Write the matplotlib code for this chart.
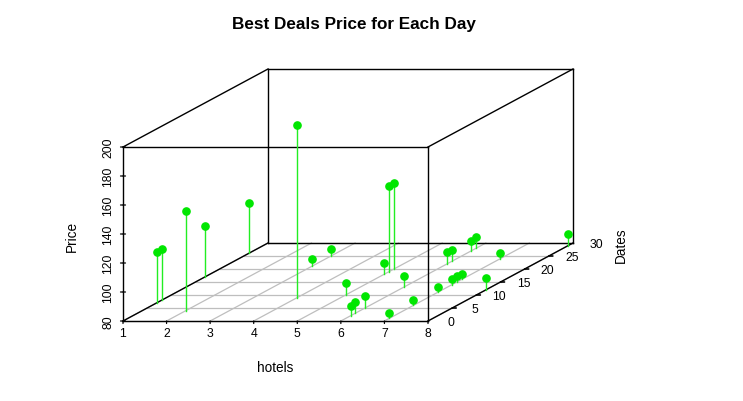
import numpy as np
import matplotlib
matplotlib.use("Agg")
import matplotlib.pyplot as plt

plt.rcParams['font.family'] = ['Liberation Sans', 'DejaVu Sans']

# one best-deal row per day: hotel index, date, price
hotels = [1, 1, 2, 1, 1, 4, 3, 3, 5, 5, 5, 5, 6, 6, 6, 6, 6, 6, 6, 6,
          7, 7, 7, 7, 7, 7, 7, 8, 8]
dates = [7, 8, 4, 17, 26, 9, 21, 25, 10, 18, 19, 20, 2, 3, 5, 13, 22, 23, 27, 28,
         1, 6, 11, 14, 15, 16, 24, 12, 29]
prices = [115, 115, 149, 115, 115, 199, 85, 85, 88, 88, 139, 139, 87, 88, 88, 88, 88, 88, 87, 88,
          84, 84, 84, 84, 84, 84, 84, 88, 88]

x_ticks = [1, 2, 3, 4, 5, 6, 7, 8]
y_ticks = [0, 5, 10, 15, 20, 25, 30]
z_ticks = [80, 100, 120, 140, 160, 180, 200]

XLIM = (1, 8)
YLIM = (0, 30)
ZLIM = (80, 200)

# layout of the box in pixels (front face + depth shift)
W, H = 743, 402
FRONT_L, FRONT_R, FRONT_B, FRONT_T = 123, 428, 322, 148
DEPTH_DX, DEPTH_DY = 145, 78
DX_FRAC = DEPTH_DX / (FRONT_R - FRONT_L)
DZ_FRAC = DEPTH_DY / (FRONT_B - FRONT_T)

PT = 72.0 / 100  # pixels -> points


def proj(x, y, z):
    t = (np.asarray(y, float) - YLIM[0]) / (YLIM[1] - YLIM[0])
    px = np.asarray(x, float) + t * DX_FRAC * (XLIM[1] - XLIM[0])
    pz = np.asarray(z, float) + t * DZ_FRAC * (ZLIM[1] - ZLIM[0])
    return px, pz


def tick(ax, xy, dx, dy, lw=0.9):
    ax.annotate('', xy=xy, xytext=(dx * PT, dy * PT), textcoords='offset points',
                annotation_clip=False,
                arrowprops=dict(arrowstyle='-', lw=lw, color='black', shrinkA=0, shrinkB=0))


fig = plt.figure(figsize=(W / 100, H / 100), dpi=100)
ax = fig.add_axes([FRONT_L / W, 1 - FRONT_B / H, (FRONT_R - FRONT_L) / W, (FRONT_B - FRONT_T) / H])
ax.set_xlim(*XLIM)
ax.set_ylim(*ZLIM)
ax.axis('off')

grid_kw = dict(color='#BEBEBE', lw=0.9, clip_on=False, zorder=1)
for xv in x_ticks:
    px, pz = proj([xv, xv], [YLIM[0], YLIM[1]], [ZLIM[0], ZLIM[0]])
    ax.plot(px, pz, **grid_kw)
for yv in y_ticks:
    px, pz = proj([XLIM[0], XLIM[1]], [yv, yv], [ZLIM[0], ZLIM[0]])
    ax.plot(px, pz, **grid_kw)

# box edges
box_kw = dict(color='black', lw=1.0, clip_on=False, zorder=2)
keys = [(xi, yi, zi) for xi in XLIM for yi in YLIM for zi in ZLIM]
for i, a in enumerate(keys):
    for b in keys[i + 1:]:
        if sum(p != q for p, q in zip(a, b)) == 1:
            px, pz = proj([a[0], b[0]], [a[1], b[1]], [a[2], b[2]])
            ax.plot(px, pz, **box_kw)

# stems and points
for xv, yv, zv in zip(hotels, dates, prices):
    px, pz = proj([xv, xv], [yv, yv], [ZLIM[0], zv])
    ax.plot(px, pz, color='#22EE22', lw=1.0, clip_on=False, zorder=3)
px, pz = proj(hotels, dates, prices)
ax.plot(px, pz, 'o', color='#00E600', ms=5.2, mec='#00E600', clip_on=False, zorder=4)

# z axis ticks and labels
for zv in z_ticks:
    tick(ax, (XLIM[0], zv), -2.5, 0)
    tick(ax, (XLIM[0], zv), 2.5, 0)
    ax.annotate(str(zv), xy=(XLIM[0], zv), xytext=(-15 * PT, 0), textcoords='offset points',
                annotation_clip=False, rotation=90, ha='center', va='center', fontsize=8.8)

# x axis ticks and labels
for xv in x_ticks:
    tick(ax, (xv, ZLIM[0]), 0, -2.5)
    ax.annotate(str(xv), xy=(xv, ZLIM[0]), xytext=(0, -12 * PT), textcoords='offset points',
                annotation_clip=False, ha='center', va='center', fontsize=8.8)

# y axis ticks and labels (along front-right bottom edge)
for yv in y_ticks:
    px, pz = proj(XLIM[1], yv, ZLIM[0])
    if YLIM[0] < yv < YLIM[1]:
        tick(ax, (float(px), float(pz)), 4, 0, lw=1.2)
    ax.annotate(str(yv), xy=(float(px), float(pz)), xytext=(23 * PT, -1 * PT),
                textcoords='offset points', annotation_clip=False,
                ha='center', va='center', fontsize=8.8)

fig.text(354 / W, 1 - 25 / H, 'Best Deals Price for Each Day', ha='center', va='center',
         fontsize=12.3, fontweight='bold')
fig.text(275 / W, 1 - 368 / H, 'hotels', ha='center', va='center', fontsize=9.8)
fig.text(72 / W, 1 - 236 / H, 'Price', ha='center', va='center', rotation=90, fontsize=9.8)
fig.text(621 / W, 1 - 245 / H, 'Dates', ha='center', va='center', rotation=90, fontsize=9.8)

fig.savefig('out.png', dpi=100)
